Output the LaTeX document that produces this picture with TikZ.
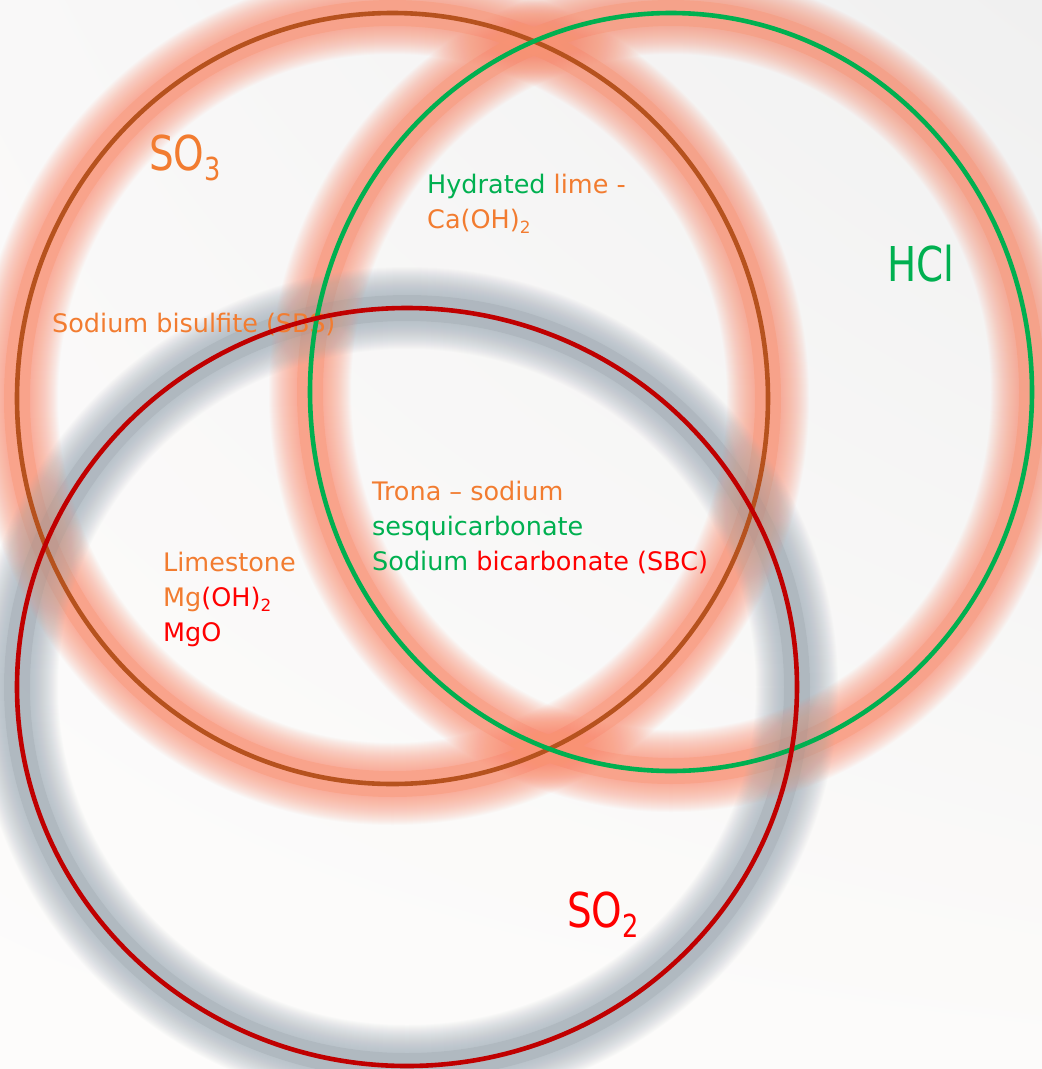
\documentclass[tikz,border=0pt]{standalone}
\usepackage{fontspec}
\usetikzlibrary{shadings}
\setmainfont{DejaVu Sans}
\newfontfamily\bigfont[FakeStretch=0.81]{DejaVu Sans}
\definecolor{bgA}{RGB}{249,248,248}
\definecolor{bgB}{RGB}{240,240,240}
\definecolor{bgC}{RGB}{253,252,251}
\definecolor{bgD}{RGB}{252,251,250}
\definecolor{glowO}{RGB}{249,146,116}
\definecolor{glowG}{RGB}{162,175,186}
\definecolor{lineBr}{RGB}{182,82,30}
\definecolor{lineGr}{RGB}{0,176,80}
\definecolor{lineRd}{RGB}{192,0,0}
\definecolor{txtO}{RGB}{242,124,48}
\definecolor{txtG}{RGB}{0,176,80}
\definecolor{txtR}{RGB}{255,0,0}
\newcommand{\chemsub}[1]{\raisebox{-0.22em}{\scalebox{0.66}{#1}}}
\tikzset{
  lbl/.style={anchor=base west, inner sep=0pt, font=\fontsize{25.5}{30}\selectfont},
  biglbl/.style={anchor=base west, inner sep=0pt, font=\bigfont\fontsize{48}{50}\selectfont},
  ring/.style={line width=4.6pt},
  glowcore/.style={opacity=0.36, line width=26pt},
  glowfade/.style={opacity=0.034}
}
\begin{document}
\begin{tikzpicture}[x=1pt,y=-1pt]
\useasboundingbox (0,0) rectangle (1042,1069);
\shade[upper left=bgA, upper right=bgB, lower left=bgC, lower right=bgD] (0,0) rectangle (1042,1069);
% glows
\draw[glowcore, draw=glowO] (392.5,398.5) ellipse [x radius=375.5, y radius=385.5];
\draw[glowcore, draw=glowO] (671,392) ellipse [x radius=361, y radius=379];
\draw[glowcore, draw=glowG] (407,687) ellipse [x radius=390, y radius=379];
\foreach \w in {28,30,...,82}{
  \draw[glowfade, draw=glowO, line width=\w pt] (392.5,398.5) ellipse [x radius=375.5, y radius=385.5];
  \draw[glowfade, draw=glowO, line width=\w pt] (671,392) ellipse [x radius=361, y radius=379];
  \draw[glowfade, draw=glowG, line width=\w pt] (407,687) ellipse [x radius=390, y radius=379];
}
% labels
\node[biglbl, text=txtO] (so3) at (149,170) {SO\chemsub{3}};
\node[biglbl, text=txtG] (hcl) at (887,281) {HCl};
\node[biglbl, text=txtR] (so2) at (567,927) {SO\chemsub{2}};
\node[lbl] (hyd1) at (427,193) {\color{txtG}Hydrated \color{txtO}lime -};
\node[lbl, text=txtO] (hyd2) at (427,228) {Ca(OH)\chemsub{2}};
\node[lbl, text=txtO] (sbs) at (52,332) {Sodium bisulfite (SBS)};
\node[lbl, text=txtO] (trona1) at (372,500) {Trona – sodium};
\node[lbl, text=txtG] (trona2) at (372,535) {sesquicarbonate};
\node[lbl] (trona3) at (372,570) {\color{txtG}Sodium \color{txtR}bicarbonate (SBC)};
\node[lbl, text=txtO] (lime1) at (163,571) {Limestone};
\node[lbl] (lime2) at (163,606) {\color{txtO}Mg\color{txtR}(OH)\chemsub{2}};
\node[lbl, text=txtR] (lime3) at (163,641) {MgO};
% rings
\draw[ring, draw=lineBr] (392.5,398.5) ellipse [x radius=375.5, y radius=385.5];
\draw[ring, draw=lineGr] (671,392) ellipse [x radius=361, y radius=379];
\draw[ring, draw=lineRd] (407,687) ellipse [x radius=390, y radius=379];
\end{tikzpicture}
\end{document}
